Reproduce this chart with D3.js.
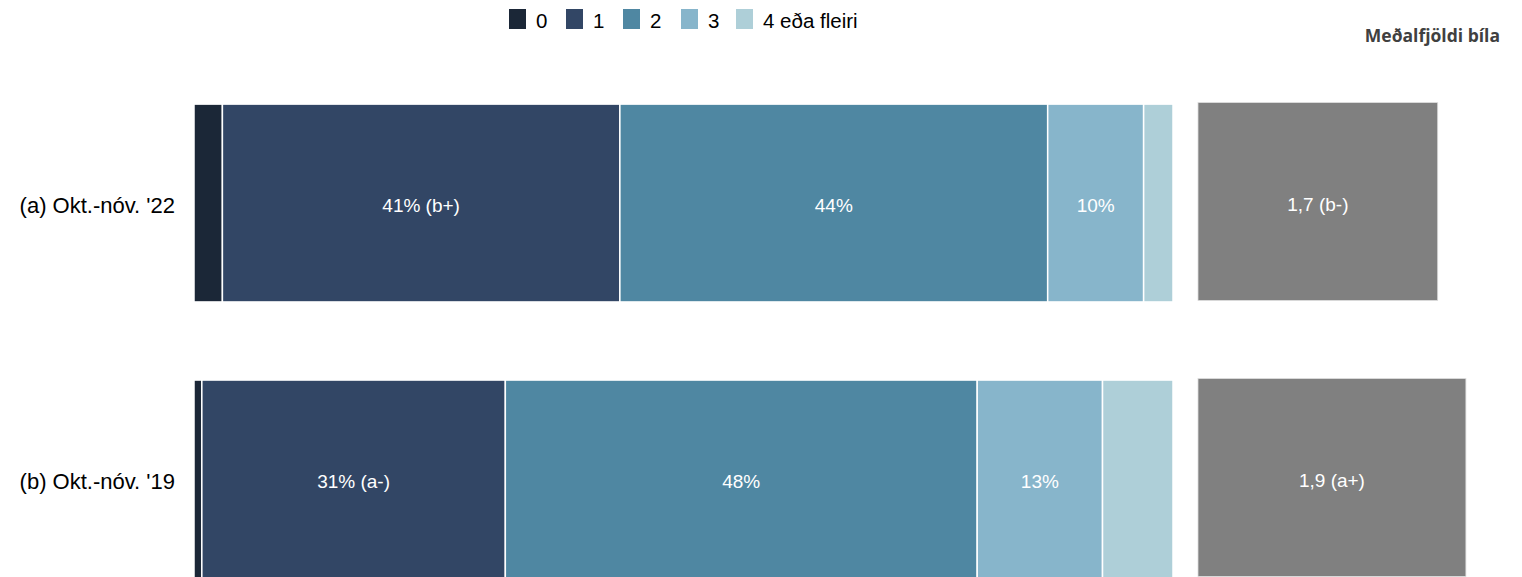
<!DOCTYPE html>
<html>
<head>
<meta charset="utf-8">
<script src="https://cdn.jsdelivr.net/npm/d3@7"></script>
<style>
  html, body { margin: 0; padding: 0; background: #fff; }
  svg { display: block; }
</style>
</head>
<body>
<svg id="chart" width="1522" height="577"></svg>
<script>
const rows = ["(a) Okt.-nóv. '22", "(b) Okt.-nóv. '19"];
const categories = ["0", "1", "2", "3", "4 eða fleiri"];
const colors = ["#1b2737", "#324665", "#4f87a2", "#87b5cb", "#aecfd8"];
const values_a = [2.9, 40.6, 43.7, 9.8, 3.0];
const values_b = [0.8, 31.0, 48.2, 12.8, 7.2];
const labels_a = ["", "41% (b+)", "44%", "10%", ""];
const labels_b = ["", "31% (a-)", "48%", "13%", ""];
const means = [1.7, 1.9];
const meanLabels = ["1,7 (b-)", "1,9 (a+)"];
const meanTitle = "Meðalfjöldi bíla";

const svg = d3.select("#chart");
const font = "'Liberation Sans', Arial, sans-serif";

const x = d3.scaleLinear().domain([0, 100]).range([194, 1173]);
const xm = d3.scaleLinear().domain([0, 2]).range([1198, 1480]);
const y = d3.scaleBand().domain(rows).range([26, 656]).paddingInner(0.283).paddingOuter(0.283);

const data = [
  { row: rows[0], values: values_a, labels: labels_a },
  { row: rows[1], values: values_b, labels: labels_b }
];

data.forEach(d => {
  let cum = 0;
  const segs = d.values.map((v, i) => {
    const s = { x0: cum, x1: cum + v, i, label: d.labels[i] };
    cum += v;
    return s;
  });
  const g = svg.append("g");
  g.selectAll("rect").data(segs).join("rect")
    .attr("x", s => x(s.x0))
    .attr("width", s => x(s.x1) - x(s.x0))
    .attr("y", y(d.row))
    .attr("height", y.bandwidth())
    .attr("fill", s => colors[s.i])
    .attr("stroke", "#ffffff")
    .attr("stroke-width", 1.5);
  g.selectAll("text").data(segs.filter(s => s.label)).join("text")
    .attr("x", s => (x(s.x0) + x(s.x1)) / 2)
    .attr("y", y(d.row) + y.bandwidth() / 2 + 2)
    .attr("dy", "0.35em")
    .attr("text-anchor", "middle")
    .attr("fill", "#ffffff")
    .attr("font-family", font)
    .attr("font-size", 19)
    .text(s => s.label);
});

// row labels
svg.append("g").selectAll("text").data(rows).join("text")
  .attr("x", 175)
  .attr("y", r => y(r) + y.bandwidth() / 2 + 2)
  .attr("dy", "0.35em")
  .attr("text-anchor", "end")
  .attr("fill", "#000")
  .attr("font-family", font)
  .attr("font-size", 22)
  .text(r => r);

// mean bars
const mg = svg.append("g");
mg.selectAll("rect").data(means).join("rect")
  .attr("x", xm(0))
  .attr("width", v => xm(v) - xm(0))
  .attr("y", (v, i) => y(rows[i]) - 1.5)
  .attr("height", y.bandwidth())
  .attr("fill", "#808080")
  .attr("stroke", "#dddddd")
  .attr("stroke-width", 0.8);
mg.selectAll("text").data(means).join("text")
  .attr("x", v => (xm(0) + xm(v)) / 2)
  .attr("y", (v, i) => y(rows[i]) + y.bandwidth() / 2 + 1)
  .attr("dy", "0.35em")
  .attr("text-anchor", "middle")
  .attr("fill", "#fff")
  .attr("font-family", font)
  .attr("font-size", 19)
  .text((v, i) => meanLabels[i]);

svg.append("text")
  .attr("x", 1500)
  .attr("y", 42)
  .attr("text-anchor", "end")
  .attr("fill", "#404040")
  .attr("font-family", "'Open Sans', sans-serif")
  .attr("font-weight", "bold")
  .attr("font-size", 17.5)
  .text(meanTitle);

// legend
const legendX = [509, 566, 623, 681, 736];
const lg = svg.append("g").selectAll("g").data(categories).join("g")
  .attr("transform", (c, i) => `translate(${legendX[i]},9)`);
lg.append("rect").attr("width", 17).attr("height", 20).attr("fill", (c, i) => colors[i]);
lg.append("text")
  .attr("x", 27).attr("y", 12).attr("dy", "0.35em")
  .attr("fill", "#000")
  .attr("font-family", font)
  .attr("font-size", 20.5)
  .text(c => c);
</script>
</body>
</html>
